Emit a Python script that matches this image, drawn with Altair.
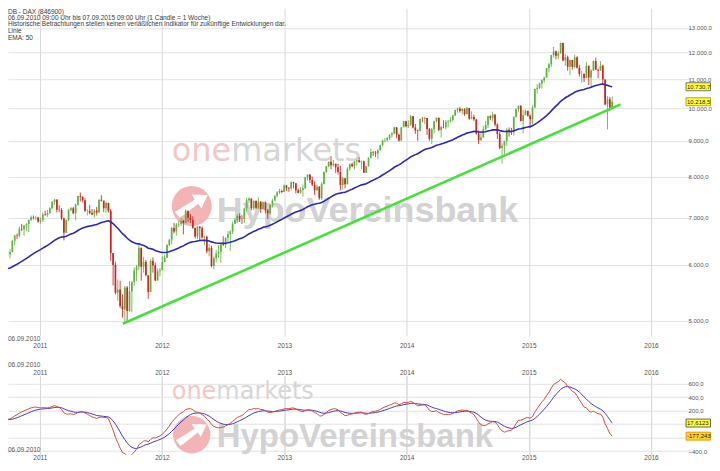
import altair as alt
import pandas as pd

# ------------------------------------------------------------------ data
# weekly closes before the visible range (only used to warm up EMA / MACD)
warmup_close = [5300, 5624, 5703, 5581, 5478, 5753, 5743, 5715, 5414, 5488, 5687, 5663,
                5686, 5817, 5709, 5831, 5957, 5957, 6037, 5875, 5695, 5608, 5434, 5500,
                5722, 5598, 5877, 5945, 5982, 6120, 6235, 6250, 6180, 6259, 6135, 5715,
                5946, 5830, 5946, 5938, 6048, 6216, 6070, 5834, 6047, 6040, 6161, 6148,
                6236, 6110, 6005, 5913, 6081]

close_2010 = [6215, 6202, 6209, 6211, 6258, 6491, 6605, 6601, 6754, 6740, 6823, 6849,
              6947, 7007, 6998, 7006, 6914]
high_2010 = [6240, 6300, 6270, 6275, 6320, 6500, 6620, 6650, 6800, 6860, 6830, 6880,
             6960, 7050, 7050, 7040, 7020]
low_2010 = [6060, 6170, 6165, 6170, 6130, 6250, 6400, 6530, 6560, 6700, 6600, 6700,
            6680, 6930, 6960, 6950, 6890]

close_2011 = [6948, 7075, 7063, 7102, 7216, 7371, 7426, 7185, 7178, 6982, 6664, 6946,
              7176, 7217, 7100, 7300, 7514, 7492, 7412, 7157, 7160, 7110, 7070, 7164,
              7121, 7419, 7400, 7220, 7344, 7158, 6236, 5998, 5480, 5537, 5246, 5190,
              5574, 5164, 5502, 5675, 5891, 5971, 6346, 5966, 6057, 5800, 5493, 6080,
              5987, 5702, 5878, 5898]
high_2011 = [7000, 7120, 7160, 7180, 7240, 7380, 7440, 7400, 7290, 7220, 7000, 6960,
             7200, 7250, 7250, 7330, 7520, 7600, 7500, 7460, 7200, 7300, 7200, 7200,
             7250, 7430, 7530, 7320, 7370, 7350, 7200, 6200, 6060, 5720, 5700, 5450,
             5600, 5600, 5690, 5690, 5950, 6000, 6430, 6260, 6160, 6100, 5780, 6110,
             6150, 6050, 5930, 5940]
low_2011 = [6860, 6900, 7040, 7020, 7090, 7200, 7300, 7120, 7130, 6950, 6500, 6700,
            6920, 7150, 7080, 6940, 7280, 7380, 7360, 7130, 7050, 7080, 7060, 7000,
            7050, 7100, 7380, 7130, 7110, 7120, 6080, 5610, 5450, 5340, 5210, 5050,
            4965, 4970, 5150, 5140, 5600, 5690, 5900, 5700, 5850, 5780, 5370, 5500,
            5850, 5690, 5700, 5780]

close_2012 = [6058, 6143, 6404, 6512, 6766, 6693, 6848, 6864, 6922, 6880, 7157, 6996,
              6947, 6775, 6583, 6801, 6762, 6561, 6579, 6271, 6339, 5978, 6130, 6229,
              6263, 6416, 6410, 6557, 6630, 6689, 6865, 6945, 7040, 6971, 6970, 7214,
              7412, 7451, 7216, 7397, 7233, 7380, 7203, 7363, 7163, 7101, 7309, 7405,
              7518, 7597, 7636, 7612, 7776]
high_2012 = [6170, 6200, 6420, 6530, 6790, 6880, 6880, 6930, 7000, 6950, 7190, 7100,
             7080, 7030, 6770, 6810, 6800, 6800, 6600, 6600, 6420, 6390, 6170, 6300,
             6400, 6430, 6590, 6560, 6700, 6720, 6910, 6990, 7080, 7100, 7060, 7230,
             7470, 7480, 7440, 7400, 7350, 7480, 7380, 7380, 7380, 7200, 7310, 7440,
             7530, 7630, 7690, 7670, 7800]
low_2012 = [5900, 6050, 6170, 6380, 6420, 6650, 6600, 6790, 6810, 6630, 6870, 6900,
            6880, 6750, 6540, 6530, 6510, 6540, 6400, 6230, 6170, 5950, 5910, 6050,
            6140, 6040, 6380, 6340, 6450, 6280, 6640, 6860, 6880, 6900, 6860, 6880,
            7140, 7340, 7170, 7170, 7200, 7200, 7110, 7180, 7100, 6970, 7060, 7240,
            7390, 7480, 7560, 7580, 7610]

close_2013 = [7715, 7702, 7857, 7833, 7652, 7593, 7661, 7708, 7986, 8058, 7913, 7795,
              7658, 7744, 7459, 7814, 8122, 8278, 8399, 8305, 8348, 8254, 8127, 7789,
              7959, 7806, 8212, 8331, 8279, 8410, 8445, 8391, 8416, 8103, 8276, 8510,
              8675, 8661, 8630, 8725, 8869, 9001, 9009, 9078, 9168, 9213, 9405, 9172,
              9006, 9400, 9589, 9435]
high_2013 = [7790, 7730, 7880, 7870, 7820, 7700, 7740, 7800, 8000, 8060, 8050, 8000,
             7880, 7800, 7760, 7860, 8140, 8290, 8410, 8560, 8450, 8350, 8350, 8290,
             8000, 7950, 8250, 8360, 8380, 8420, 8470, 8530, 8430, 8430, 8290, 8520,
             8770, 8700, 8700, 8750, 8880, 9030, 9080, 9110, 9200, 9260, 9420, 9410,
             9210, 9410, 9600, 9600]
low_2013 = [7640, 7620, 7650, 7700, 7580, 7580, 7570, 7500, 7690, 7900, 7840, 7760,
            7540, 7640, 7420, 7420, 7800, 8100, 8250, 8200, 8270, 8100, 8060, 7650,
            7670, 7700, 7800, 8160, 8250, 8200, 8300, 8370, 8200, 8100, 8110, 8280,
            8490, 8560, 8530, 8470, 8720, 8830, 8950, 8970, 9020, 9100, 9200, 9070,
            8970, 9000, 9400, 9400]

close_2014 = [9473, 9742, 9392, 9306, 9290, 9662, 9657, 9692, 9350, 9056, 9342, 9587,
              9695, 9315, 9409, 9401, 9556, 9581, 9630, 9768, 9943, 9987, 9912, 9987,
              9815, 10009, 9666, 9720, 9644, 9210, 9009, 9092, 9339, 9470, 9747, 9691,
              9799, 9490, 9195, 8788, 8850, 8988, 9326, 9291, 9252, 9732, 9980, 10087,
              9594, 9787, 9922, 9765]
high_2014 = [9620, 9790, 9750, 9500, 9330, 9670, 9720, 9730, 9600, 9380, 9380, 9600,
             9710, 9630, 9440, 9620, 9630, 9630, 9720, 9790, 9960, 10030, 10050, 10000,
             9990, 10050, 10000, 9900, 9800, 9660, 9300, 9260, 9450, 9600, 9760, 9780,
             9890, 9800, 9520, 9260, 8920, 9000, 9370, 9400, 9380, 9740, 9990, 10090,
             10100, 9950, 9960, 9900]
low_2014 = [9380, 9440, 9370, 9200, 9000, 9280, 9560, 9500, 9170, 9000, 8900, 9210,
            9550, 9280, 9100, 9370, 9340, 9400, 9550, 9580, 9750, 9860, 9860, 9800,
            9760, 9800, 9630, 9650, 9600, 9180, 8900, 9000, 9100, 9300, 9380, 9620,
            9580, 9430, 9050, 8750, 8350, 8600, 8850, 9120, 9170, 9150, 9700, 9870,
            9580, 9220, 9770, 9730]

close_2015 = [9648, 10032, 10649, 10694, 10846, 10963, 11050, 11401, 11551, 11901, 12039,
              11868, 11967, 12375, 11689, 11811, 11454, 11709, 11447, 11815, 11414, 11197,
              11197, 11041, 11492, 11058, 11316, 11674, 11347, 11309, 11490, 10985, 10124,
              10298, 10038, 10218]
high_2015 = [9800, 10100, 10660, 10820, 10880, 10990, 11090, 11410, 11600, 11910, 12220,
             12080, 12060, 12390, 12390, 11940, 11880, 11730, 11720, 11920, 11850, 11530,
             11300, 11200, 11630, 11300, 11360, 11690, 11800, 11390, 11670, 11530, 10900,
             10400, 10380, 10400]
low_2015 = [9380, 9480, 10000, 10500, 10660, 10670, 10880, 11060, 11250, 11440, 11800,
            11740, 11730, 11950, 11660, 11490, 11300, 11140, 11350, 11400, 11390, 11100,
            10870, 10900, 11040, 10790, 10680, 11300, 11330, 11030, 11310, 10800, 10100,
            9338, 9920, 10080]

# green trend line (two anchor points)
trend_dates = ["2011-09-06", "2015-10-02"]
trend_values = [4951, 10131]

# yellow value boxes on the right axes
main_box_values = [10730.7, 10218.5]
main_box_labels = ["10.730,7", "10.218,5"]
lower_box_values = [17.6123, -177.243]
lower_box_labels = ["17,6123", "-177,243"]

header_lines = ["DB - DAX (846900)",
                "06.09.2010 09:00 Uhr bis 07.09.2015 09:00 Uhr (1 Candle = 1 Woche)",
                "Historische Betrachtungen stellen keinen verläßlichen Indikator für zukünftige Entwicklungen dar.",
                "Linie",
                "EMA: 50"]
start_label = "06.09.2010"
watermark_words = ["one", "markets", "HypoVereinsbank"]
main_ticks = [5000, 6000, 7000, 8000, 9000, 10000, 11000, 12000, 13000]
lower_ticks = [-400, -200, 0, 200, 400, 600]
year_ticks = [2011, 2012, 2013, 2014, 2015, 2016]

# ------------------------------------------------------------------ derived table
closes = close_2010 + close_2011 + close_2012 + close_2013 + close_2014 + close_2015
highs = high_2010 + high_2011 + high_2012 + high_2013 + high_2014 + high_2015
lows = low_2010 + low_2011 + low_2012 + low_2013 + low_2014 + low_2015
n = len(closes)
dates = pd.date_range("2010-09-06", periods=n, freq="7D")
opens = [warmup_close[-1]] + closes[:-1]
hi = [max(h, o, c) for h, o, c in zip(highs, opens, closes)]
lo = [min(l, o, c) for l, o, c in zip(lows, opens, closes)]

full = pd.Series(warmup_close + closes, dtype=float)
nw = len(warmup_close)
ema50 = full.ewm(span=50, adjust=False).mean()
macd_full = full.ewm(span=12, adjust=False).mean() - full.ewm(span=26, adjust=False).mean()
signal_full = macd_full.ewm(span=9, adjust=False).mean()

df = pd.DataFrame({
    "date": dates.strftime("%Y-%m-%d"),
    "o": opens, "c": closes, "h": hi, "l": lo,
    "ema": ema50.iloc[nw:].values,
    "macd": macd_full.iloc[nw:].values,
    "signal": signal_full.iloc[nw:].values,
    "dir": ["up" if c >= o else "down" for o, c in zip(opens, closes)],
})
trend_df = pd.DataFrame({"date": trend_dates, "v": trend_values})

# ------------------------------------------------------------------ styles
GREEN, RED = "#5cb340", "#cc2424"
FONT = "Liberation Sans"
GRID = "#e2e2e2"
VGRID = "#d9d9d9"
W, H_MAIN, H_LOW = 684, 328, 79

xscale = alt.Scale(type="utc", padding=0,
                   domain=[alt.DateTime(year=2010, month=9, date=28, utc=True),
                           alt.DateTime(year=2016, month=4, date=29, hours=14, utc=True)])
yscale = alt.Scale(type="log", domain=[4760, 13860], nice=False, padding=0)
lscale = alt.Scale(domain=[-451.9, 718.5], nice=False, zero=False, padding=0)
year_vals = [alt.DateTime(year=y, month=1, date=1, utc=True) for y in year_ticks]
color_enc = alt.Color("dir:N", scale=alt.Scale(domain=["up", "down"], range=[GREEN, RED]), legend=None)

common_axis = dict(title=None, domain=False, ticks=False, labelFontSize=6.5, labelFont=FONT,
                   labelColor="#555")
right_axis = dict(title=None, domain=False, ticks=False, labelFontSize=6, labelFont=FONT,
                  labelColor="#555", labelPadding=-3, minExtent=0)
x_axis_main = alt.Axis(values=year_vals, labelExpr="utcFormat(datum.value, '%Y')", grid=True,
                       gridColor=VGRID, labelPadding=7, **common_axis)
y_axis_main = alt.Axis(orient="right", values=main_ticks, grid=True, gridColor=GRID,
                       labelExpr="format(datum.value / 1000, '.0f') + '.000,0'", **right_axis)
x_axis_bottom = alt.Axis(orient="bottom", values=year_vals, labelExpr="utcFormat(datum.value, '%Y')",
                         grid=True, gridColor=VGRID, labelPadding=0, **common_axis)
x_axis_top = alt.Axis(orient="top", values=year_vals, labelExpr="utcFormat(datum.value, '%Y')",
                      grid=True, gridColor=VGRID, labelPadding=0, **common_axis)
y_axis_low = alt.Axis(orient="right", values=lower_ticks, grid=True, gridColor=GRID,
                      labelExpr="(datum.value == 0 || datum.value == -200) ? '' : replace(format(datum.value, '.1f'), '.', ',')",
                      **right_axis)


def one_row():
    return alt.Chart(pd.DataFrame({"k": [0]}))


def text_at(txt, x, y, size=6.5, color="#444", font=FONT, weight="normal", baseline="middle"):
    return one_row().mark_text(text=txt, align="left", baseline=baseline, fontSize=size,
                               color=color, font=font, fontWeight=weight).encode(
        x=alt.value(x), y=alt.value(y))


def watermark(y_one, y_hypo, cy, one_size, hypo_size, logo_size):
    logo = one_row().mark_point(shape="circle", filled=True, size=logo_size, color="#f2b4b4",
                                opacity=1).encode(x=alt.value(184), y=alt.value(cy))
    arrow = one_row().mark_point(
        shape="M -0.85 0.3 L 0.15 -0.32 L 0.0 -0.58 L 0.8 -0.55 L 0.48 0.12 L 0.33 -0.12 L -0.6 0.6 Z",
        filled=True, size=logo_size, color="#ffffff", opacity=1).encode(x=alt.value(184), y=alt.value(cy))
    one_w = 1.861 * one_size
    one = text_at(watermark_words[0], 164, y_one, size=one_size, color="#f5c6c6",
                  font="DejaVu Sans", baseline="alphabetic")
    mk = text_at(watermark_words[1], 164 + one_w, y_one, size=one_size, color="#d6d6d6",
                 font="DejaVu Sans", baseline="alphabetic")
    hypo = text_at(watermark_words[2], 209, y_hypo, size=hypo_size, color="#d2d2d2",
                   font=FONT, weight="bold", baseline="alphabetic")
    return [logo, arrow, one, mk, hypo]


def value_boxes(values, labels, scale, axis, fills, strokes):
    layers = []
    for v, t, f, s in zip(values, labels, fills, strokes):
        d = alt.Chart(pd.DataFrame({"v": [v], "t": [t]}))
        layers.append(d.mark_bar(orient="horizontal", size=8, fill=f, stroke=s, strokeWidth=0.8).encode(
            x=alt.value(679), x2=alt.value(703.5), y=alt.Y("v:Q", scale=scale, axis=axis)))
        layers.append(d.mark_text(align="left", baseline="middle", fontSize=6, font=FONT,
                                  color="#222").encode(
            x=alt.value(680), y=alt.Y("v:Q", scale=scale, axis=axis), text="t:N"))
    return layers


# ------------------------------------------------------------------ main panel
base = alt.Chart(df)
X = alt.X("date:T", scale=xscale, axis=x_axis_main)

wick = base.mark_rule(clip=True, strokeWidth=1, opacity=0.85).encode(
    x=X, y=alt.Y("l:Q", scale=yscale, axis=y_axis_main), y2="h:Q", color=color_enc)
body = base.mark_bar(clip=True, size=1.7).encode(
    x=X, y=alt.Y("o:Q", scale=yscale, axis=y_axis_main), y2="c:Q", color=color_enc)
ema_line = base.mark_line(clip=True, color="#2a2ab4", strokeWidth=1.6).encode(
    x=X, y=alt.Y("ema:Q", scale=yscale, axis=y_axis_main))
trend = alt.Chart(trend_df).mark_line(clip=True, color="#47e03c", strokeWidth=2.6).encode(
    x=X, y=alt.Y("v:Q", scale=yscale, axis=y_axis_main))

header_y = [3.5, 9.5, 15.5, 22.5, 29.5]
headers = [text_at(t, 0, y, size=6.5, color="#3a3a3a") for t, y in zip(header_lines, header_y)]

main = alt.layer(
    *watermark(153, 214, 198, 32, 36, 1600),
    wick, body, ema_line, trend,
    *headers,
    text_at(start_label, 0, 331, color="#555"),
    *value_boxes(main_box_values, main_box_labels, yscale, y_axis_main,
                 ["#ffff3c", "#ffff3c"], ["#555555", "#a09000"]),
).properties(width=W, height=H_MAIN)

# ------------------------------------------------------------------ lower (MACD) panel
lbase = alt.Chart(df)
sig_line = lbase.mark_line(clip=True, color="#3c3cc8", strokeWidth=1).encode(
    x=alt.X("date:T", scale=xscale, axis=x_axis_top),
    y=alt.Y("signal:Q", scale=lscale, axis=y_axis_low))
macd_line = lbase.mark_line(clip=True, color="#e0483c", strokeWidth=1).encode(
    x=alt.X("date:T", scale=xscale, axis=x_axis_bottom),
    y=alt.Y("macd:Q", scale=lscale, axis=y_axis_low))

lower = alt.layer(
    *watermark(23, 71, 59, 24, 33, 1400),
    sig_line, macd_line,
    text_at(start_label, 0, -11, color="#555"),
    text_at(start_label, 0, 74, color="#555"),
    *value_boxes(lower_box_values, lower_box_labels, lscale, y_axis_low,
                 ["#ffff3c", "#ffd22a"], ["#444444", "#e08a00"]),
).resolve_axis(x="independent").properties(width=W, height=H_LOW)

chart = alt.vconcat(main, lower, spacing=40, bounds="flush").properties(
    padding=0, background="white"
).configure_view(stroke=None)

chart.save("out.html", embed_options={"renderer": "svg", "actions": False})
